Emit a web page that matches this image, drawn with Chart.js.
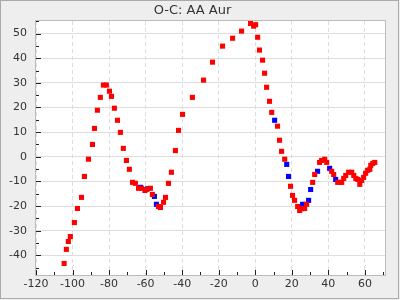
<!DOCTYPE html>
<html><head><meta charset="utf-8">
<script src="https://cdn.jsdelivr.net/npm/chart.js@4"></script>
<style>html,body{margin:0;padding:0;background:#eeeeee}#wrap{width:400px;height:300px}</style>
</head><body><div id="wrap"><canvas id="c" width="400" height="300"></canvas></div>
<script>
const chartTitle = 'O-C: AA Aur';
const redX = [-104.6,-103.4,-102.3,-101.2,-99.0,-97.3,-95.1,-93.5,-91.3,-89.1,-88.0,-86.4,-84.8,-83.1,-81.5,-79.8,-78.7,-77.1,-75.4,-73.8,-72.2,-70.5,-68.9,-67.2,-65.6,-63.9,-62.3,-60.4,-59.6,-57.4,-56.3,-53.0,-51.9,-50.2,-49.1,-47.5,-45.9,-43.7,-42.0,-39.8,-34.4,-28.3,-23.4,-17.9,-12.4,-7.5,-2.6,-0.9,0.2,1.3,2.3,4.0,5.1,6.2,7.8,9.0,12.2,13.3,14.4,16.1,19.3,20.4,21.5,23.2,24.3,25.4,27.0,28.1,31.4,32.5,35.2,36.3,38.0,39.1,41.8,42.9,45.1,46.2,47.3,48.4,49.5,51.1,52.8,53.9,55.0,56.1,57.2,58.2,59.3,60.4,61.5,62.7,63.2,64.3,65.4];
const redY = [-43.3,-37.6,-34.4,-32.4,-26.7,-21.0,-16.5,-8.0,-1.0,5.0,11.5,18.9,24.1,29.1,29.1,26.6,24.5,19.7,14.8,9.9,3.4,-1.5,-5.1,-10.4,-10.8,-12.8,-12.8,-13.7,-13.3,-12.8,-15.3,-20.2,-20.6,-18.5,-16.5,-10.8,-6.3,2.5,10.7,17.2,24.1,31.1,38.4,44.9,48.1,51.0,54.1,53.0,53.6,48.5,43.3,39.2,33.9,28.2,22.5,18.0,12.4,6.7,2.2,-1.0,-12.0,-15.7,-17.7,-20.2,-21.8,-21.1,-21.0,-19.3,-10.4,-7.2,-2.3,-1.5,-1.0,-2.3,-5.9,-7.2,-10.4,-10.4,-10.4,-8.8,-7.6,-6.3,-6.3,-7.6,-8.8,-9.2,-11.2,-9.6,-8.4,-6.7,-5.5,-5.1,-3.5,-2.7,-2.3];
const blueX = [-62.8,-59.0,-55.2,-54.1,10.6,17.2,18.2,25.9,29.2,30.3,34.1,40.7,44.0];
const blueY = [-12.4,-13.0,-16.1,-19.3,14.8,-3.1,-8.0,-19.3,-17.7,-13.3,-5.9,-4.7,-9.2];
const xMin = -120, xMax = 71, xStep = 20, xMinorStep = 10;
const yMin = -48, yMax = 55.1, yStep = 10, yMinorStep = 5;

const toPts = (xs, ys) => xs.map((x, i) => ({x: x, y: ys[i]}));

const framePlugin = {
  id: 'framePlugin',
  beforeDraw(chart) {
    const {ctx, chartArea: a} = chart;
    ctx.save();
    ctx.fillStyle = '#eeeeee';
    ctx.fillRect(0, 0, chart.width, chart.height);
    ctx.fillStyle = '#ffffff';
    ctx.fillRect(a.left, a.top, a.right - a.left, a.bottom - a.top);
    ctx.restore();
  },
  afterDatasetsDraw(chart) {
    const {ctx, chartArea: a, scales} = chart;
    ctx.save();
    ctx.strokeStyle = '#bbbbbb';
    ctx.lineWidth = 1;
    ctx.strokeRect(Math.round(a.left) - 0.5, Math.round(a.top) - 0.5, Math.round(a.right - a.left) + 1, Math.round(a.bottom - a.top) + 1);
    ctx.strokeStyle = '#222222';
    ctx.beginPath();
    for (let v = xMin; v <= xMax + 1e-9; v += xMinorStep) {
      const px = Math.round(scales.x.getPixelForValue(v)) + 0.5;
      const len = (Math.abs(v % xStep) < 1e-9) ? 5 : 3;
      ctx.moveTo(px, a.bottom);
      ctx.lineTo(px, a.bottom - len);
    }
    for (let v = -45; v <= yMax + 1e-9; v += yMinorStep) {
      const py = Math.round(scales.y.getPixelForValue(v)) + 0.5;
      const len = (Math.abs(v % yStep) < 1e-9) ? 5 : 3;
      ctx.moveTo(a.left, py);
      ctx.lineTo(a.left + len, py);
    }
    ctx.stroke();
    ctx.restore();
  },
  afterDraw(chart) {
    const {ctx} = chart;
    ctx.save();
    ctx.strokeStyle = '#aaaaaa';
    ctx.lineWidth = 1;
    ctx.strokeRect(0.5, 0.5, 398, 298);
    ctx.restore();
  }
};

Chart.defaults.font.family = '"DejaVu Sans", sans-serif';
Chart.defaults.color = '#333333';

new Chart(document.getElementById('c'), {
  type: 'scatter',
  data: {
    datasets: [
      {label: 'red', data: toPts(redX, redY), backgroundColor: '#ff0000', borderWidth: 0, pointStyle: 'rect', pointRadius: 3.6, pointHoverRadius: 3.6},
      {label: 'blue', data: toPts(blueX, blueY), backgroundColor: '#0000ff', borderWidth: 0, pointStyle: 'rect', pointRadius: 3.6, pointHoverRadius: 3.6}
    ]
  },
  options: {
    responsive: false,
    devicePixelRatio: 1,
    animation: false,
    events: [],
    layout: {padding: {left: 0, right: 15, top: 0, bottom: 0}},
    plugins: {
      legend: {display: false},
      tooltip: {enabled: false},
      title: {display: true, text: chartTitle, color: '#333333', font: {size: 13, weight: 'normal'}, padding: {top: 3, bottom: 2.4}}
    },
    scales: {
      x: {
        type: 'linear', min: xMin, max: xMax,
        afterFit(s) { s.height = 25; },
        ticks: {stepSize: xStep, includeBounds: false, font: {size: 11}, color: '#333333', padding: 3, maxRotation: 0},
        grid: {color: '#dddddd', lineWidth: 1, drawTicks: false, borderDash: [4, 3]},
        border: {display: false, dash: [4, 3]}
      },
      y: {
        type: 'linear', min: yMin, max: yMax,
        afterFit(s) { s.width = 36; },
        ticks: {stepSize: yStep, includeBounds: false, font: {size: 11}, color: '#333333', padding: 9},
        grid: {color: '#dddddd', lineWidth: 1, drawTicks: false},
        border: {display: false}
      }
    }
  },
  plugins: [framePlugin]
});
</script></body></html>
